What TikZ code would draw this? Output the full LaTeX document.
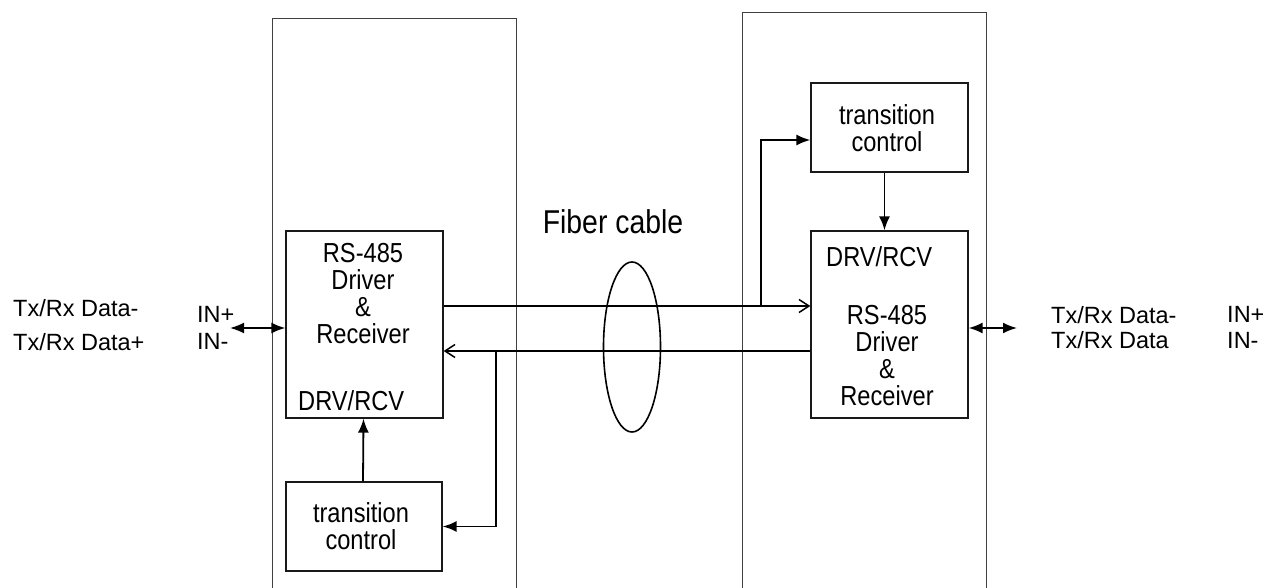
\documentclass[tikz,border=0pt]{standalone}
\usepackage{fontspec}
\setmainfont{Liberation Sans}
\newfontfamily\condfont{Liberation Sans}[FakeStretch=0.86]
\usetikzlibrary{arrows.meta,shapes.geometric}
\tikzset{
  panel/.style={draw=black!75, line width=0.9pt},
  blk/.style={draw=black!90, line width=1.3pt, rectangle, inner sep=0pt},
  conn/.style={draw=black, line width=1.8pt},
  fill arrow/.style={-{Latex[length=14pt,width=11pt]}},
  thin arrow/.style={-{Straight Barb[length=10pt,width=13pt,line width=1.5pt]}},
  dbl arrow/.style={{Latex[length=14pt,width=11pt]}-{Latex[length=14pt,width=11pt]}},
  boxtext/.style={font=\condfont\fontsize{27.5}{27}\selectfont, align=center, inner sep=0pt},
  label/.style={font=\fontsize{23.5}{26}\selectfont, inner sep=0pt, anchor=west},
  fibertext/.style={font=\condfont\fontsize{33}{35}\selectfont, inner sep=0pt}
}
\begin{document}
\begin{tikzpicture}[x=1pt,y=-1pt]
\useasboundingbox (0,0) rectangle (1263,588);
% panels
\draw[panel] (272,588) -- (272,18) -- (516,18) -- (516,588);
\draw[panel] (742,588) -- (742,12) -- (986,12) -- (986,588);
% blocks
\node[blk, minimum width=157pt, minimum height=187pt] (lrs) at (364.5,324.5) {};
\node[blk, minimum width=156pt, minimum height=89pt] (ltc) at (364,526.5) {};
\node[blk, minimum width=157pt, minimum height=89pt] (rtc) at (889.5,127.5) {};
\node[blk, minimum width=157pt, minimum height=187pt] (rrs) at (889.5,324.5) {};
% block texts
\node[boxtext] (lrstxt) at (363,294) {RS-485\\Driver\\\&\\Receiver};
\node[boxtext, anchor=west] (ldrv) at (298,401) {DRV/RCV};
\node[boxtext] (ltctxt) at (361,526) {transition\\control};
\node[boxtext] (rtctxt) at (887,128) {transition\\control};
\node[boxtext, anchor=west] (rdrv) at (826,257) {DRV/RCV};
\node[boxtext] (rrstxt) at (887,356) {RS-485\\Driver\\\&\\Receiver};
% fiber
\node[draw=black, line width=1.6pt, ellipse, minimum width=57pt, minimum height=170pt, inner sep=0pt] (fib) at (632,347) {};
\node[fibertext] (fibtxt) at (613,222) {Fiber cable};
% labels
\node[label] (l1) at (13,308) {Tx/Rx Data-};
\node[label] (l2) at (13,342) {Tx/Rx Data+};
\node[label] (l3) at (197,314) {IN+};
\node[label] (l4) at (197,341) {IN-};
\node[label] (r1) at (1051,315) {Tx/Rx Data-};
\node[label] (r2) at (1051,340) {Tx/Rx Data};
\node[label] (r3) at (1227,314) {IN+};
\node[label] (r4) at (1227,340) {IN-};
% connectors
\coordinate (lin) at (230,328);
\coordinate (rout) at (1017,328);
\coordinate (br1) at (761,306);
\coordinate (br2) at (496,351);
\draw[conn, dbl arrow] (lin) -- ([yshift=-3.5pt]lrs.west);
\draw[conn, dbl arrow] ([yshift=-3.5pt]rrs.east) -- (rout);
\draw[conn, thin arrow] ([yshift=18.5pt]lrs.east) -- ([yshift=18.5pt]rrs.west);
\draw[conn, thin arrow] ([yshift=-26.5pt]rrs.west) -- ([yshift=-26.5pt]lrs.east);
\draw[conn, fill arrow] (br1) |- ([yshift=-12.5pt]rtc.west);
\draw[conn, fill arrow] (br2) |- (ltc.east);
\draw[conn, fill arrow] ([xshift=-1pt]ltc.north) -- ([xshift=-1pt]lrs.south);
\draw[conn, fill arrow] ([xshift=-5pt]rtc.south) -- ([xshift=-5pt]rrs.north);
\end{tikzpicture}
\end{document}
